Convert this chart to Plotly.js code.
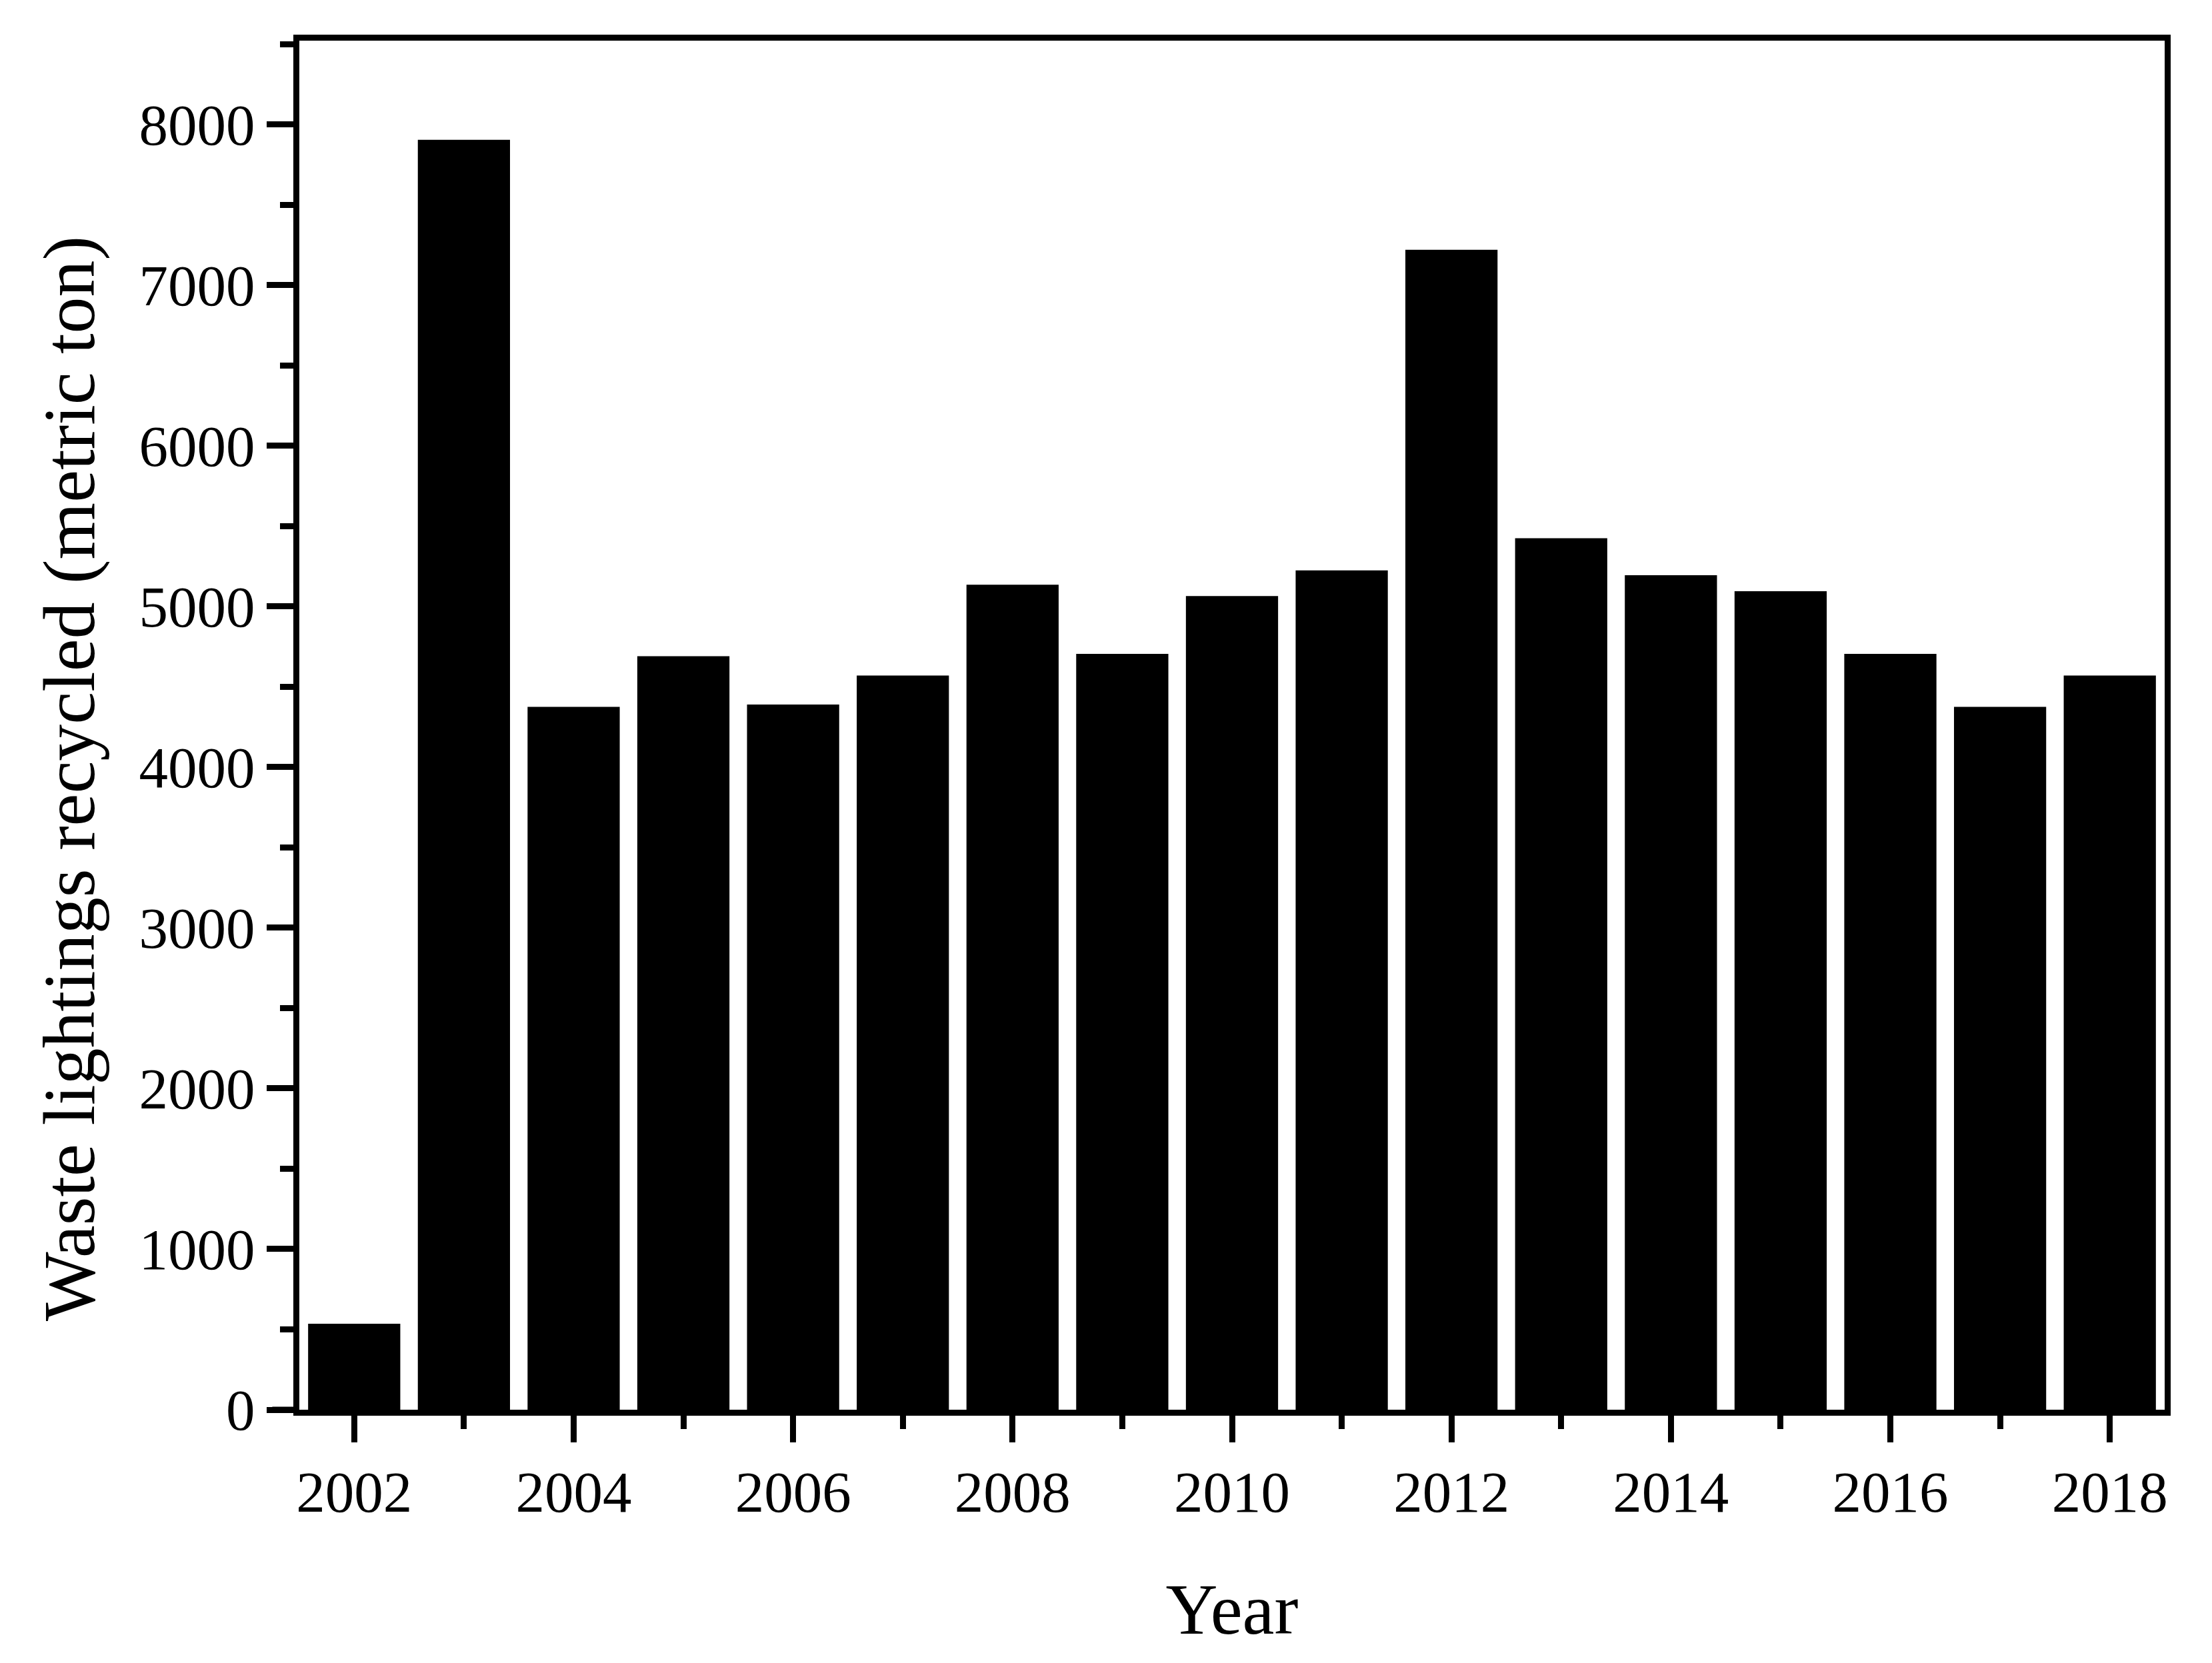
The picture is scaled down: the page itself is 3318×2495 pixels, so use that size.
<!DOCTYPE html>
<html>
<head>
<meta charset="utf-8">
<script src="https://cdn.plot.ly/plotly-3.0.1.min.js"></script>
<style>
  html, body { margin: 0; padding: 0; background: #fff; }
  #chart { width: 3318px; height: 2495px; }
</style>
</head>
<body>
<div id="chart"></div>
<script>
// waste lightings recycled per year
const years = [2002, 2003, 2004, 2005, 2006, 2007, 2008, 2009, 2010,
               2011, 2012, 2013, 2014, 2015, 2016, 2017, 2018];
const recycled = [535, 7905, 4375, 4690, 4390, 4570, 5135, 4705, 5065,
                  5225, 7220, 5425, 5195, 5095, 4705, 4375, 4570];

const font = 'Liberation Serif, Times New Roman, serif';

const trace = {
    x: years,
    y: recycled,
    type: 'bar',
    width: 0.84,
    marker: { color: '#000000', line: { width: 0 } },
    hoverinfo: 'x+y'
};

const axisCommon = {
    showline: true,
    linecolor: '#000',
    linewidth: 9,
    mirror: true,
    showgrid: false,
    zeroline: false,
    ticks: 'outside',
    tickwidth: 9,
    tickcolor: '#000',
    ticklen: 40,
    tickfont: { family: font, size: 87, color: '#000' }
};

const layout = {
    width: 3318,
    height: 2495,
    margin: { l: 449, r: 71, t: 61, b: 380 },
    paper_bgcolor: '#fff',
    plot_bgcolor: '#fff',
    showlegend: false,
    bargap: 0.16,
    xaxis: Object.assign({}, axisCommon, {
        range: [2001.5, 2018.5],
        tick0: 2002,
        dtick: 2,
        minor: { dtick: 1, ticks: 'outside', ticklen: 20, tickwidth: 9, tickcolor: '#000' },
        title: { text: 'Year', font: { family: font, size: 108, color: '#000' }, standoff: 92 }
    }),
    yaxis: Object.assign({}, axisCommon, {
        range: [0, 8522],
        tick0: 0,
        dtick: 1000,
        minor: { dtick: 500, ticks: 'outside', ticklen: 20, tickwidth: 9, tickcolor: '#000' }
    }),
    annotations: [{
        // y title sits a little below the middle of the axis in the original
        text: 'Waste lightings recycled (metric ton)',
        xref: 'paper', yref: 'paper',
        x: -0.1233, y: 0.461,
        xanchor: 'center', yanchor: 'middle',
        textangle: -90,
        showarrow: false,
        font: { family: font, size: 110, color: '#000' }
    }],
    shapes: [{
        // x axis line runs a bit past the y axis, as in the original
        type: 'line', xref: 'paper', yref: 'paper',
        x0: -0.0145, x1: 0, y0: 0, y1: 0,
        line: { color: '#000', width: 9 }
    }]
};

Plotly.newPlot('chart', [trace], layout, { displayModeBar: false, staticPlot: true });
</script>
</body>
</html>
